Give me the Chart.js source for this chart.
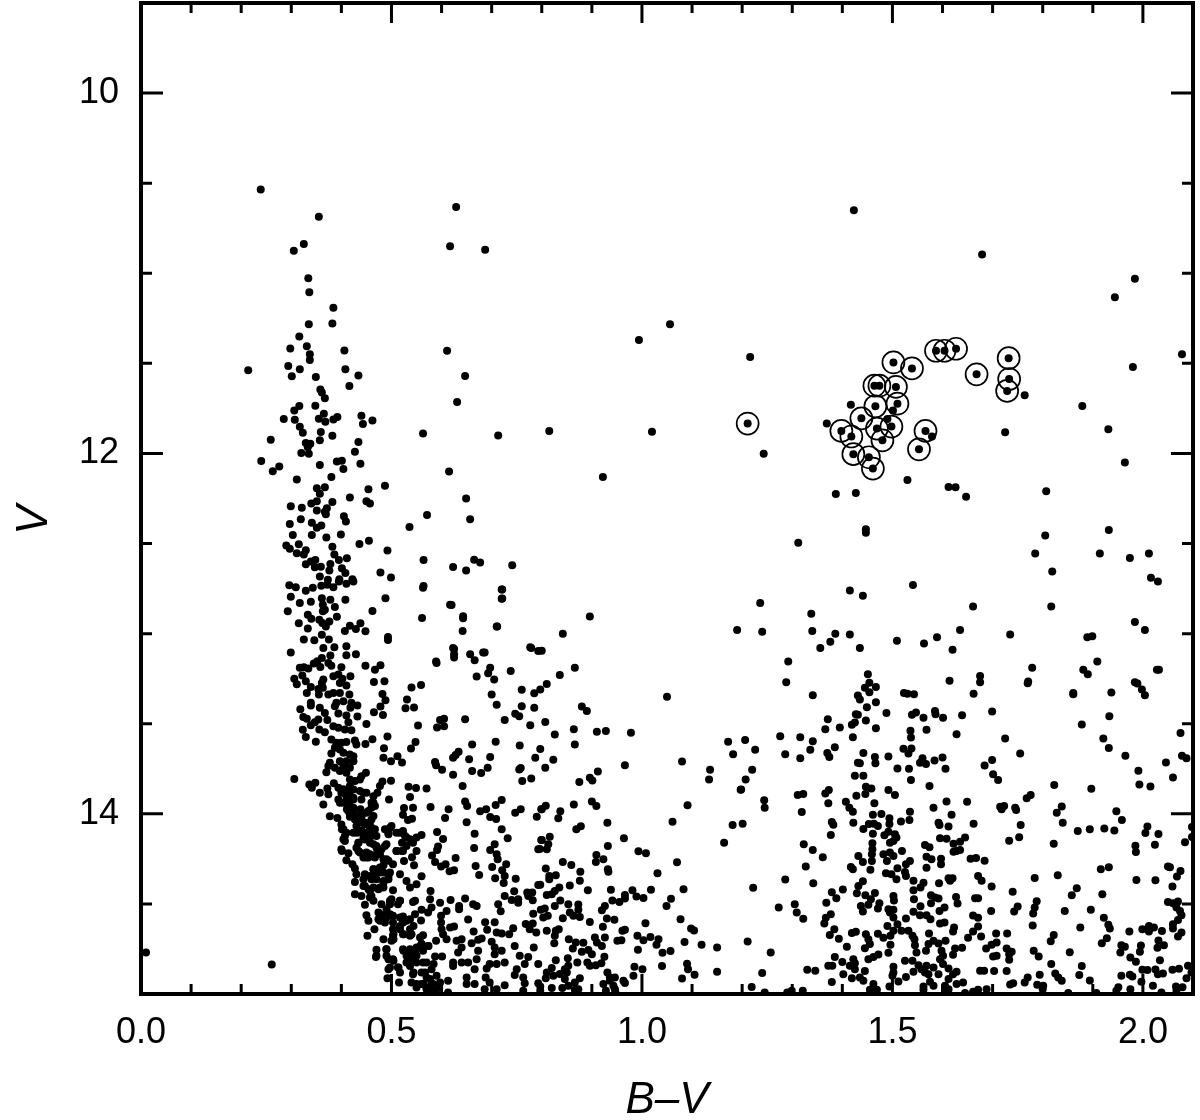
<!DOCTYPE html>
<html>
<head>
<meta charset="utf-8">
<style>
  html, body { margin: 0; padding: 0; background: #fff; }
  canvas { display: block; }
</style>
<script src="https://cdn.jsdelivr.net/npm/chart.js@4"></script>
</head>
<body>
<canvas id="cmd" width="1200" height="1120"></canvas>
<script>
// [B-V, V]
const circledStars = [[1.211,11.834],[1.398,11.875],[1.418,11.906],[1.438,11.805],[1.422,12.004],[1.453,12.021],[1.461,12.084],[1.480,11.927],[1.469,11.862],[1.498,11.851],[1.466,11.738],[1.510,11.724],[1.464,11.624],[1.474,11.624],[1.507,11.631],[1.502,11.495],[1.539,11.528],[1.587,11.430],[1.604,11.430],[1.627,11.419],[1.668,11.561],[1.732,11.471],[1.733,11.587],[1.729,11.653],[1.566,11.875],[1.553,11.977]];

const nearCircled = [[1.216,11.465],[1.243,12.001],[1.369,11.834],[1.417,11.729],[1.501,11.762],[1.490,11.809],[1.579,11.906],[1.764,11.677],[1.725,11.882],[1.530,12.148],[1.626,12.187]];

const upperBranch = [[.239,10.535],[.355,10.686],[.325,10.838],[.305,10.875],[.334,11.028],[.336,11.106],[.384,11.192],[.335,11.283],[.382,11.279],[.316,11.351],[.298,11.418],[.331,11.405],[.337,11.449],[.337,11.481],[.406,11.429],[.294,11.514],[.317,11.532],[.214,11.538],[.301,11.571],[.349,11.575],[.408,11.532],[.434,11.567],[.416,11.625],[.358,11.645],[.361,11.662],[.367,11.693],[.348,11.735],[.316,11.737],[.306,11.761],[.365,11.780],[.285,11.809],[.307,11.813],[.355,11.807],[.368,11.824],[.384,11.811],[.392,11.798],[.440,11.791],[.443,11.837],[.462,11.817],[.317,11.852],[.323,11.885],[.359,11.881],[.382,11.902],[.357,11.927],[.259,11.924],[.329,11.942],[.338,11.946],[.333,11.966],[.320,11.998],[.335,12.001],[.434,11.937],[.427,11.990],[.563,11.889],[.240,12.042],[.276,12.073],[.263,12.099],[.357,12.064],[.391,12.044],[.401,12.040],[.404,12.086],[.438,12.057],[.311,12.144],[.380,12.131],[.487,12.179],[.367,12.188],[.351,12.193],[.357,12.223],[.454,12.199],[.417,12.245],[.450,12.265],[.457,12.278],[.382,12.269],[.351,12.265],[.340,12.278],[.299,12.293],[.321,12.302],[.351,12.317],[.371,12.304],[.367,12.323],[.369,12.337],[.571,12.341],[.405,12.349],[.409,12.378],[.319,12.365],[.297,12.391],[.341,12.385],[.360,12.400],[.351,12.413],[.536,12.408],[.303,12.452],[.341,12.452],[.370,12.467],[.399,12.450],[.455,12.485],[.436,12.502],[.290,12.511],[.315,12.504],[.297,12.529],[.311,12.554],[.329,12.537],[.325,12.561],[.382,12.518],[.492,12.539],[.386,12.561],[.411,12.581],[.395,12.591],[.564,12.592],[.329,12.615],[.339,12.600],[.348,12.592],[.378,12.613],[.347,12.631],[.359,12.629],[.376,12.650],[.401,12.637],[.408,12.664],[.478,12.661],[.499,12.688],[.357,12.683],[.373,12.701],[.396,12.698],[.422,12.698]];

const turnoffStars = [[.296,12.731],[.309,12.743],[.329,12.762],[.343,12.745],[.360,12.734],[.372,12.729],[.384,12.742],[.395,12.710],[.410,12.723],[.424,12.710],[.299,12.795],[.317,12.830],[.339,12.823],[.361,12.803],[.363,12.840],[.378,12.812],[.387,12.852],[.408,12.812],[.488,12.803],[.293,12.876],[.333,12.895],[.340,12.917],[.356,12.923],[.363,12.876],[.367,12.867],[.376,12.932],[.391,12.906],[.362,12.941],[.369,12.960],[.315,12.943],[.333,12.971],[.361,13.006],[.325,13.032],[.346,13.037],[.375,13.033],[.407,12.985],[.417,12.956],[.429,12.974],[.438,12.943],[.448,12.987],[.462,12.875],[.561,12.913],[.620,12.841],[.643,12.904],[.642,12.985],[.710,12.960],[.720,12.755],[.720,12.806],[.564,12.736],[.493,13.019],[.493,13.035],[.299,13.105],[.364,13.080],[.386,13.076],[.410,13.070],[.410,13.120],[.429,13.115],[.361,13.135],[.378,13.122],[.352,13.153],[.374,13.163],[.380,13.178],[.345,13.166],[.358,13.185],[.317,13.189],[.334,13.194],[.325,13.187],[.400,13.187],[.448,13.178],[.467,13.200],[.478,13.176],[.590,13.163],[.625,13.085],[.625,13.133],[.666,13.148],[.686,13.105],[.777,13.076],[.793,13.096],[.693,13.220],[.670,13.238],[.738,13.207],[.384,13.237],[.394,13.227],[.402,13.250],[.418,13.237],[.322,13.233],[.306,13.251],[.329,13.264],[.311,13.281],[.364,13.255],[.361,13.274],[.397,13.274],[.410,13.288],[.465,13.268],[.486,13.264],[.339,13.296],[.354,13.307],[.363,13.301],[.331,13.329],[.355,13.338],[.374,13.338],[.384,13.329],[.397,13.329],[.416,13.338],[.540,13.299],[.559,13.285],[.760,13.312],[.785,13.331],[.700,13.338],[.482,13.335],[.488,13.370],[.531,13.366],[.710,13.394],[.760,13.403],[.785,13.412],[.339,13.384],[.339,13.399],[.357,13.412],[.390,13.384],[.387,13.403],[.404,13.375],[.420,13.384],[.432,13.399],[.418,13.412],[.478,13.405],[.528,13.414],[.545,13.410],[.318,13.419],[.465,13.436],[.483,13.451],[.747,13.445],[.755,13.458],[.726,13.480],[.647,13.475],[.605,13.473],[.605,13.514],[.591,13.521],[.777,13.508],[.553,13.510],[.367,13.440],[.394,13.443],[.410,13.455],[.432,13.460],[.324,13.462],[.331,13.473],[.354,13.477],[.347,13.492],[.372,13.480],[.414,13.492],[.339,13.508],[.450,13.501],[.384,13.514],[.394,13.523],[.407,13.532],[.420,13.536],[.323,13.534],[.356,13.532],[.367,13.547],[.329,13.573],[.349,13.600],[.380,13.588],[.390,13.606],[.400,13.606],[.410,13.602],[.427,13.593],[.430,13.615],[.448,13.612],[.462,13.586],[.492,13.571],[.485,13.636],[.548,13.602],[.539,13.637],[.661,13.615],[.708,13.600],[.756,13.621],[.387,13.634],[.397,13.643],[.404,13.661],[.380,13.665],[.417,13.671],[.424,13.680],[.484,13.689],[.499,13.708],[.512,13.680],[.521,13.715],[.623,13.689],[.634,13.656],[.628,13.674],[.655,13.697],[.697,13.684],[.787,13.689],[.397,13.708],[.410,13.708],[.424,13.708],[.377,13.717],[.374,13.735],[.387,13.745],[.404,13.735],[.417,13.745],[.370,13.769],[.397,13.763],[.410,13.772],[.587,13.713],[.589,13.730],[.601,13.756],[.623,13.783],[.661,13.763],[.679,13.774],[.692,13.745],[.755,13.754],[.758,13.746],[.779,13.804],[.761,13.818],[.306,13.807],[.417,13.809],[.427,13.818],[.437,13.809],[.449,13.772],[.440,13.791],[.499,13.817],[.482,13.820],[.477,13.846],[.472,13.883],[.336,13.837],[.348,13.828],[.341,13.855],[.357,13.883],[.372,13.859],[.374,13.892],[.385,13.831],[.394,13.855],[.642,13.846],[.534,13.850],[.549,13.857],[.570,13.859],[.537,13.907],[.495,13.920],[.400,13.883],[.414,13.865],[.424,13.865],[.437,13.874],[.450,13.883],[.464,13.902],[.394,13.920],[.410,13.902],[.424,13.911],[.440,13.920],[.460,13.938],[.410,13.938],[.397,13.938],[.417,13.957],[.364,13.948],[.438,13.975],[.460,13.966],[.467,13.957],[.414,13.985],[.424,13.994],[.454,13.985],[.377,14.014],[.392,14.023],[.417,14.016],[.427,14.031],[.440,14.022],[.460,14.031],[.525,13.968],[.543,13.966],[.578,13.962],[.614,13.974],[.647,13.931],[.651,13.957],[.677,13.986],[.689,13.975],[.708,13.951],[.720,13.924],[.747,13.994],[.758,13.975],[.799,13.975],[.523,14.005],[.533,14.035],[.541,14.027],[.607,14.023],[.650,14.047],[.697,14.018],[.709,14.029],[.790,14.016],[.400,14.059],[.404,14.086],[.430,14.068],[.447,14.059],[.457,14.077],[.467,14.086],[.487,14.086],[.500,14.068],[.510,14.105],[.523,14.095],[.494,14.114],[.424,14.105],[.440,14.095],[.410,14.105],[.407,14.151],[.470,14.123],[.560,14.118],[.550,14.132],[.530,14.132],[.521,14.160],[.591,14.101],[.603,14.140],[.720,14.086],[.666,14.110],[.732,14.136],[.799,14.145],[.434,14.160],[.430,14.188],[.447,14.142],[.457,14.160],[.470,14.179],[.490,14.169],[.480,14.197],[.510,14.206],[.523,14.206],[.543,14.160],[.550,14.206],[.593,14.182],[.591,14.201],[.665,14.190],[.706,14.169],[.697,14.201],[.710,14.225],[.793,14.197],[.400,14.197],[.414,14.219],[.437,14.215],[.450,14.215],[.464,14.234],[.477,14.225],[.541,14.241],[.525,14.262],[.581,14.232],[.628,14.245],[.712,14.252],[.410,14.258],[.454,14.243],[.490,14.252],[.503,14.280],[.484,14.286],[.545,14.286],[.587,14.267],[.599,14.293],[.608,14.280],[.616,14.319],[.625,14.313],[.668,14.289],[.701,14.295],[.729,14.280],[.422,14.280],[.427,14.304],[.464,14.308],[.474,14.308],[.484,14.326],[.497,14.326],[.447,14.336],[.430,14.336],[.427,14.378],[.517,14.336],[.560,14.347],[.675,14.339],[.721,14.313],[.726,14.345],[.707,14.358],[.748,14.360],[.724,14.384],[.793,14.395],[.530,14.373],[.537,14.409],[.550,14.391],[.503,14.424],[.460,14.363],[.484,14.373],[.494,14.363],[.444,14.400],[.454,14.419],[.464,14.409],[.474,14.419],[.484,14.409],[.427,14.446],[.440,14.456],[.460,14.456],[.447,14.505],[.464,14.483],[.578,14.428],[.577,14.474],[.618,14.478],[.647,14.470],[.726,14.456],[.745,14.430],[.771,14.437],[.781,14.437],[.773,14.456],[.740,14.478],[.753,14.474],[.753,14.493],[.782,14.480],[.713,14.502],[.663,14.502],[.670,14.511],[.635,14.511],[.635,14.530],[.718,14.541],[.597,14.493],[.610,14.539],[.580,14.520],[.560,14.533],[.573,14.548],[.500,14.474],[.517,14.483],[.547,14.483],[.480,14.502],[.497,14.502],[.513,14.502],[.543,14.489],[.490,14.530],[.474,14.548],[.450,14.563],[.454,14.594],[.484,14.566],[.474,14.585],[.490,14.576],[.503,14.566],[.523,14.570],[.537,14.585],[.547,14.557],[.487,14.603],[.503,14.603],[.523,14.603],[.559,14.592],[.599,14.566],[.599,14.603],[.653,14.587],[.783,14.554],[.687,14.602],[.706,14.602],[.768,14.611],[.782,14.609],[.466,14.640],[.452,14.677],[.484,14.696],[.503,14.640],[.517,14.640],[.537,14.640],[.503,14.677],[.523,14.668],[.540,14.668],[.500,14.705],[.563,14.674],[.600,14.640],[.603,14.668],[.617,14.631],[.625,14.626],[.664,14.653],[.691,14.644],[.743,14.635],[.776,14.640],[.789,14.659],[.710,14.659],[.720,14.664],[.735,14.668],[.589,14.705],[.610,14.696],[.630,14.705],[.640,14.696],[.660,14.718],[.673,14.699],[.680,14.692],[.700,14.710],[.560,14.723],[.573,14.733],[.550,14.742],[.470,14.755],[.490,14.751],[.523,14.751],[.537,14.751],[.547,14.770],[.563,14.760],[.640,14.742],[.633,14.770],[.673,14.760],[.706,14.742],[.746,14.733],[.784,14.742],[.706,14.779],[.720,14.760],[.469,14.794],[.490,14.788],[.503,14.807],[.530,14.788],[.543,14.807],[.563,14.825],[.587,14.792],[.601,14.792],[.623,14.825],[.640,14.825],[.653,14.825],[.670,14.807],[.696,14.834],[.710,14.834],[.726,14.825],[.756,14.788],[.773,14.794],[.766,14.834],[.793,14.834],[.494,14.862],[.513,14.853],[.537,14.844],[.580,14.862],[.623,14.844],[.666,14.862],[.690,14.858],[.750,14.862],[.492,14.912],[.515,14.936],[.517,14.880],[.543,14.890],[.567,14.880],[.590,14.899],[.577,14.917],[.613,14.927],[.650,14.908],[.746,14.895],[.650,14.945],[.666,14.945],[.688,14.908],[.696,14.936],[.726,14.951],[.686,14.973],[.710,14.973],[.763,14.908],[.766,14.940],[.793,14.940],[.763,14.982],[.540,14.936],[.560,14.945],[.583,14.945],[.597,14.936],[.550,14.964],[.570,14.964],[.590,14.973],[.577,14.982],[.613,14.991],[.261,14.836],[.010,14.77]];

const denseClump = [[.404,13.864],[.417,13.846],[.444,13.883],[.464,13.938],[.404,13.938],[.424,13.920],[.411,13.975],[.431,14.012],[.450,13.994],[.464,14.012],[.437,14.049],[.457,14.049],[.431,14.105],[.450,14.105],[.464,14.105],[.434,14.160],[.434,14.206],[.450,14.243],[.470,14.188],[.487,14.178],[.467,14.243],[.484,14.252],[.444,14.243],[.497,14.077],[.494,14.105],[.517,14.105],[.527,14.123],[.537,14.141],[.520,14.206],[.530,14.178],[.464,14.308],[.477,14.326],[.457,14.345],[.494,14.345],[.444,14.363],[.470,14.363],[.484,14.382],[.447,14.400],[.404,14.141],[.407,14.123],[.401,14.086],[.401,14.206],[.494,14.261],[.510,14.206],[.417,13.901],[.414,13.938],[.424,13.966],[.417,14.003],[.440,14.012],[.447,14.049],[.460,14.077],[.440,14.095],[.444,14.132],[.457,14.132],[.464,14.169],[.457,14.225],[.470,14.225],[.477,14.298],[.470,14.326],[.457,14.428],[.477,14.409],[.457,14.465],[.497,14.483],[.517,14.483],[.477,14.557],[.497,14.557],[.517,14.576],[.530,14.594],[.477,14.594],[.517,14.622],[.504,14.668],[.524,14.668],[.537,14.677],[.504,14.696],[.544,14.622],[.557,14.687],[.574,14.733],[.554,14.742],[.537,14.770],[.524,14.760],[.550,14.788],[.530,14.825],[.550,14.825],[.570,14.825],[.584,14.834],[.560,14.880],[.570,14.908],[.580,14.945],[.564,14.945],[.550,14.945],[.590,14.964],[.570,14.973],[.494,14.807],[.504,14.816],[.514,14.853],[.497,14.853],[.544,14.880],[.534,14.788],[.470,14.788],[.490,14.751],[.560,14.723]];

const middleStars = [[.875,13.824],[.901,13.815],[1.134,13.809],[1.207,13.809],[1.197,13.866],[1.244,13.925],[1.245,13.966],[1.311,13.896],[.808,13.955],[.800,13.975],[.837,13.986],[.833,14.025],[.864,13.948],[.900,13.931],[.909,13.957],[.931,14.049],[1.091,13.953],[1.061,14.044],[1.181,14.062],[1.201,14.055],[.878,14.069],[.869,14.086],[.816,14.127],[.800,14.145],[.813,14.169],[.810,14.197],[.796,14.195],[.964,14.136],[.932,14.178],[1.164,14.160],[.909,14.228],[.923,14.252],[.908,14.267],[.993,14.208],[1.008,14.219],[1.070,14.269],[.842,14.267],[.859,14.284],[.808,14.304],[.877,14.322],[.932,14.308],[.933,14.321],[1.031,14.330],[1.286,14.365],[.815,14.345],[.828,14.341],[.815,14.363],[.876,14.372],[.797,14.394],[.856,14.398],[.835,14.409],[.826,14.428],[.820,14.446],[.810,14.450],[.892,14.424],[.938,14.422],[.981,14.424],[1.018,14.422],[1.083,14.419],[1.222,14.411],[.966,14.450],[.989,14.459],[1.003,14.467],[.966,14.470],[.955,14.489],[.941,14.481],[1.058,14.472],[.837,14.481],[.853,14.502],[.873,14.503],[.826,14.511],[.926,14.511],[1.049,14.511],[1.273,14.520],[1.305,14.502],[.920,14.535],[.798,14.533],[.806,14.526],[.873,14.533],[.803,14.575],[.812,14.566],[.842,14.579],[.856,14.548],[.863,14.566],[.876,14.572],[.930,14.581],[.945,14.588],[1.309,14.548],[1.077,14.585],[.896,14.601],[1.007,14.607],[.922,14.627],[.810,14.649],[.828,14.649],[.834,14.640],[.826,14.677],[.966,14.644],[.961,14.649],[1.098,14.636],[1.104,14.648],[.991,14.677],[1.003,14.701],[1.017,14.683],[1.033,14.696],[1.029,14.727],[.906,14.686],[.926,14.686],[.854,14.696],[.868,14.714],[.883,14.716],[.910,14.714],[.920,14.733],[.825,14.718],[.862,14.747],[.951,14.705],[.959,14.701],[1.085,14.712],[1.119,14.727],[1.150,14.742],[1.211,14.708],[.992,14.755],[1.041,14.771],[1.057,14.762],[1.257,14.769],[.880,14.766],[.893,14.756],[.900,14.779],[.925,14.793],[.852,14.801],[.828,14.812],[.871,14.825],[.891,14.825],[.896,14.843],[.908,14.840],[.919,14.830],[1.040,14.845],[1.090,14.832],[.853,14.843],[.846,14.862],[.820,14.856],[.810,14.880],[.808,14.912],[.823,14.899],[.836,14.889],[.850,14.880],[.985,14.849],[1.001,14.862],[1.092,14.862],[1.105,14.893],[1.150,14.877],[1.240,14.884],[.931,14.880],[.983,14.899],[.936,14.908],[.946,14.908],[.936,14.926],[.846,14.917],[.876,14.912],[.866,14.936],[1.080,14.914],[.966,14.939],[.963,14.926],[.797,14.958],[.820,14.967],[.841,14.967],[.853,14.954],[.923,14.945],[.943,14.954],[.946,14.973],[.873,14.973],[.866,14.976],[1.219,14.961],[.797,14.982],[.928,14.982],[1.245,14.991],[1.299,14.982],[1.290,14.991],[.947,14.991]];

const redStars = [[1.341,13.342],[1.431,13.344],[1.454,13.273],[1.467,13.296],[1.454,13.325],[1.467,13.381],[1.449,13.408],[1.530,13.333],[1.543,13.336],[1.614,13.261],[1.675,13.270],[1.770,13.275],[1.662,13.333],[1.861,13.336],[1.937,13.327],[1.989,13.277],[2.004,13.342],[1.427,13.447],[1.371,13.475],[1.425,13.493],[1.447,13.482],[1.395,13.521],[1.467,13.525],[1.488,13.440],[1.547,13.438],[1.562,13.467],[1.586,13.447],[1.601,13.467],[1.639,13.453],[1.699,13.432],[1.933,13.458],[1.878,13.504],[1.536,13.539],[1.537,13.576],[1.568,13.534],[1.421,13.575],[1.341,13.597],[1.628,13.558],[1.725,13.582],[2.075,13.551],[1.921,13.582],[1.932,13.635],[1.522,13.639],[1.538,13.637],[1.532,13.665],[1.370,13.663],[1.374,13.685],[1.442,13.663],[1.465,13.685],[1.466,13.720],[1.492,13.682],[1.755,13.665],[1.965,13.678],[2.078,13.678],[2.087,13.691],[1.316,13.691],[1.431,13.717],[1.435,13.720],[1.560,13.691],[1.555,13.717],[1.567,13.724],[1.584,13.704],[1.600,13.687],[1.510,13.748],[1.533,13.750],[1.606,13.750],[1.684,13.732],[1.699,13.702],[2.046,13.715],[1.991,13.761],[1.701,13.781],[1.711,13.813],[1.425,13.789],[1.442,13.789],[1.537,13.813],[2.060,13.798],[1.993,13.837],[2.015,13.848],[1.574,13.846],[1.823,13.840],[1.897,13.861],[1.447,13.850],[1.458,13.859],[1.492,13.868],[1.505,13.896],[1.373,13.868],[1.366,13.887],[1.322,13.890],[1.428,13.900],[1.446,13.890],[1.776,13.896],[1.768,13.914],[1.608,13.931],[1.649,13.933],[1.407,13.933],[1.372,13.942],[1.464,13.942],[1.582,13.966],[1.715,13.961],[1.723,13.957],[1.718,13.975],[1.745,13.966],[1.747,13.979],[1.838,13.959],[1.828,13.994],[1.414,13.966],[1.421,13.988],[1.319,13.990],[1.535,13.988],[1.461,14.005],[1.478,14.001],[1.618,14.005],[1.947,13.986],[1.958,14.034],[1.494,14.025],[1.494,14.057],[1.517,14.042],[1.534,14.034],[1.379,14.046],[1.382,14.060],[1.422,14.049],[1.592,14.049],[1.594,14.062],[1.612,14.070],[1.662,14.055],[1.756,14.062],[1.840,14.049],[1.442,14.084],[1.453,14.057],[1.463,14.055],[1.471,14.068],[1.870,14.095],[1.894,14.086],[1.923,14.082],[1.943,14.092],[2.009,14.071],[2.005,14.106],[2.031,14.112],[1.377,14.118],[1.461,14.110],[1.484,14.119],[1.492,14.099],[1.505,14.114],[1.508,14.132],[1.595,14.136],[1.608,14.138],[1.645,14.132],[1.635,14.155],[1.622,14.166],[1.753,14.130],[1.733,14.149],[2.084,14.158],[2.098,14.129],[2.098,14.073],[1.822,14.166],[2.024,14.171],[1.985,14.177],[1.986,14.212],[1.323,14.169],[1.341,14.201],[1.460,14.164],[1.460,14.197],[1.495,14.160],[1.502,14.151],[1.565,14.173],[1.574,14.186],[1.628,14.206],[1.635,14.201],[1.622,14.210],[1.519,14.206],[1.459,14.225],[1.482,14.225],[1.495,14.215],[1.502,14.234],[1.459,14.262],[1.489,14.262],[1.361,14.241],[1.432,14.234],[1.441,14.267],[1.568,14.238],[1.578,14.252],[1.597,14.249],[1.597,14.280],[1.656,14.250],[1.667,14.245],[1.684,14.260],[1.535,14.262],[1.527,14.280],[1.510,14.302],[1.327,14.293],[1.417,14.295],[1.421,14.308],[1.456,14.310],[1.568,14.299],[2.050,14.293],[2.054,14.297],[1.916,14.308],[1.932,14.297],[2.075,14.317],[1.487,14.330],[1.498,14.336],[1.525,14.323],[1.527,14.345],[1.508,14.363],[1.671,14.345],[1.678,14.372],[1.784,14.356],[1.830,14.341],[1.987,14.367],[2.025,14.369],[2.068,14.348],[1.612,14.358],[1.620,14.358],[1.615,14.372],[1.342,14.385],[1.441,14.374],[1.432,14.400],[1.542,14.372],[1.562,14.382],[1.556,14.409],[1.593,14.385],[1.698,14.404],[2.059,14.404],[1.401,14.420],[1.379,14.435],[1.429,14.441],[1.446,14.452],[1.465,14.439],[1.542,14.424],[1.740,14.433],[1.868,14.413],[1.858,14.452],[1.919,14.446],[1.388,14.468],[1.502,14.456],[1.503,14.481],[1.543,14.474],[1.577,14.452],[1.585,14.465],[1.592,14.470],[1.577,14.496],[1.627,14.461],[1.630,14.498],[1.665,14.468],[1.671,14.468],[1.788,14.485],[1.368,14.494],[1.457,14.474],[1.452,14.504],[1.474,14.496],[1.437,14.511],[1.471,14.526],[1.441,14.542],[1.492,14.529],[1.502,14.533],[1.556,14.513],[1.604,14.520],[1.594,14.539],[1.697,14.539],[1.750,14.515],[1.743,14.542],[1.784,14.520],[1.781,14.553],[1.844,14.539],[1.896,14.533],[2.050,14.489],[2.060,14.496],[2.070,14.487],[2.067,14.520],[2.074,14.539],[1.495,14.548],[1.502,14.576],[1.542,14.544],[1.555,14.563],[1.568,14.563],[1.377,14.557],[1.367,14.577],[1.322,14.583],[1.527,14.581],[1.576,14.585],[1.661,14.565],[1.671,14.577],[1.922,14.577],[2.077,14.563],[2.070,14.589],[1.364,14.609],[1.490,14.622],[1.510,14.613],[1.595,14.609],[1.604,14.603],[1.623,14.631],[1.621,14.653],[1.671,14.625],[1.661,14.653],[1.780,14.620],[1.931,14.616],[1.934,14.637],[1.875,14.631],[2.012,14.622],[1.999,14.640],[2.012,14.653],[2.022,14.631],[2.038,14.651],[1.973,14.653],[2.060,14.613],[2.060,14.637],[2.077,14.659],[2.070,14.681],[1.384,14.640],[1.419,14.662],[1.427,14.655],[1.375,14.672],[1.447,14.668],[1.471,14.666],[1.502,14.649],[1.518,14.649],[1.532,14.649],[1.540,14.677],[1.573,14.664],[1.729,14.664],[1.707,14.664],[1.822,14.673],[1.393,14.694],[1.452,14.696],[1.482,14.688],[1.496,14.677],[1.544,14.696],[1.582,14.705],[1.606,14.705],[1.651,14.688],[1.677,14.681],[1.816,14.707],[1.928,14.690],[1.918,14.718],[2.031,14.703],[2.042,14.729],[2.029,14.744],[1.996,14.731],[1.572,14.723],[1.592,14.720],[1.455,14.723],[1.445,14.746],[1.409,14.738],[1.496,14.727],[1.545,14.729],[1.639,14.744],[1.625,14.747],[1.687,14.747],[1.698,14.727],[1.708,14.714],[1.728,14.747],[1.738,14.766],[1.782,14.760],[1.957,14.729],[1.964,14.738],[1.955,14.769],[1.994,14.766],[1.854,14.768],[1.548,14.769],[1.567,14.760],[1.492,14.771],[1.598,14.760],[1.621,14.782],[1.601,14.788],[1.472,14.781],[1.462,14.794],[1.452,14.807],[1.385,14.795],[1.400,14.823],[1.422,14.807],[1.425,14.829],[1.415,14.843],[1.701,14.792],[1.708,14.788],[1.733,14.779],[1.733,14.810],[1.792,14.792],[1.975,14.797],[1.986,14.821],[2.034,14.812],[1.525,14.816],[1.540,14.816],[1.595,14.807],[1.601,14.834],[1.612,14.858],[1.817,14.834],[1.878,14.845],[1.380,14.843],[1.372,14.843],[1.425,14.862],[1.502,14.849],[1.552,14.840],[1.568,14.843],[1.582,14.853],[1.558,14.862],[1.330,14.866],[1.346,14.871],[1.445,14.873],[1.502,14.880],[1.542,14.877],[1.565,14.880],[1.572,14.890],[1.592,14.891],[1.628,14.877],[1.621,14.890],[1.675,14.871],[1.683,14.871],[1.703,14.873],[1.728,14.873],[1.999,14.866],[2.009,14.867],[2.025,14.864],[2.030,14.890],[2.040,14.886],[2.059,14.866],[2.072,14.860],[2.090,14.843],[2.097,14.880],[2.087,14.912],[1.402,14.890],[1.419,14.912],[1.435,14.908],[1.442,14.927],[1.500,14.899],[1.527,14.906],[1.512,14.930],[1.612,14.917],[1.575,14.932],[1.794,14.893],[1.825,14.886],[1.831,14.908],[1.838,14.927],[1.873,14.895],[1.770,14.908],[1.764,14.936],[1.957,14.899],[1.974,14.893],[1.979,14.903],[1.894,14.925],[1.379,14.934],[1.582,14.954],[1.628,14.945],[1.641,14.936],[1.735,14.947],[1.741,14.941],[1.789,14.949],[1.801,14.954],[1.997,14.932],[2.020,14.954],[1.462,14.945],[1.494,14.958],[1.562,14.958],[1.605,14.954],[1.612,14.973],[1.951,14.963],[1.975,14.973],[2.066,14.958],[2.079,14.963],[1.455,14.976],[1.469,14.976],[1.321,14.982],[1.562,14.976],[1.605,14.982],[1.688,14.973],[1.671,14.976],[1.661,14.987],[1.800,14.973],[1.947,14.982],[2.067,14.982],[1.851,14.995],[1.907,14.995],[1.645,14.995],[2.037,14.991]];

const fieldStars = [[.629,10.632],[.617,10.85],[.687,10.87],[1.423,10.65],[1.679,10.896],[1.984,11.03],[1.944,11.133],[1.056,11.283],[.994,11.37],[.611,11.43],[.647,11.57],[.631,11.715],[2.078,11.45],[1.98,11.52],[.713,11.90],[.815,11.875],[1.02,11.88],[.615,12.10],[.922,12.13],[1.879,11.737],[1.931,11.865],[1.964,12.05],[1.807,12.21],[1.612,12.186],[1.647,12.24],[1.387,12.225],[1.427,12.22],[1.447,12.42],[1.447,12.44],[1.932,12.425],[1.914,12.555],[1.974,12.58],[2.012,12.555],[2.016,12.69],[2.03,12.71],[1.805,12.455],[1.785,12.555],[1.819,12.655],[1.817,12.85],[1.312,12.495],[1.541,12.73],[.649,12.25],[.657,12.365],[.563,12.745],[.623,12.63],[.649,12.65],[.665,12.59],[.677,12.605],[.741,12.62],[.721,12.755],[.721,12.805],[.617,12.84],[.643,12.915],[.711,12.96],[.896,12.905],[.842,13.0],[.779,13.08],[.80,13.095],[1.19,12.98],[1.236,12.83],[1.24,12.99],[1.338,12.89],[1.415,12.76],[1.441,12.79],[1.34,12.985],[1.386,13.0],[1.415,13.005],[1.435,13.08],[1.376,13.045],[1.356,13.08],[1.509,13.04],[1.589,13.02],[1.635,12.98],[1.563,13.055],[1.661,12.85],[1.735,13.005],[1.62,13.09],[1.779,13.19],[1.771,13.265],[1.675,13.235],[1.292,13.155],[1.288,13.27],[1.889,13.02],[1.899,13.015],[1.984,12.935],[2.004,12.98],[1.909,13.155],[1.881,13.2],[1.89,13.225],[1.861,13.33],[1.998,13.31],[1.984,13.27],[2.028,13.2],[2.032,13.2],[1.05,13.35],[.978,13.55],[.928,13.54],[.91,13.545],[.966,13.73],[.89,13.43],[.88,13.405],[.864,13.53],[.826,13.56],[.797,13.31],[.81,13.28],[.836,13.23],[.866,13.19],[.807,13.49],[.683,13.105],[.697,13.19],[.705,13.255],[.657,13.115],[.623,13.08],[.625,13.115],[.589,13.155],[.597,13.48],[.912,13.765],[.866,13.615],[.896,13.80],[.797,13.64],[.823,13.70],[.807,13.745],[1.08,13.71],[1.136,13.755],[1.172,13.6],[1.182,13.67],[1.206,13.59],[1.22,13.755],[1.226,13.645],[1.198,13.865],[1.276,13.57],[1.286,13.67],[1.316,13.575],[1.336,13.645],[1.366,13.53],[1.385,13.63],[1.419,13.505],[1.435,13.365],[1.445,13.3],[1.451,13.225],[1.431,13.45],[1.523,13.33],[1.539,13.45],[1.585,13.43]];

const allStars = [...circledStars, ...nearCircled, ...upperBranch, ...turnoffStars, ...denseClump, ...middleStars, ...redStars, ...fieldStars];

const toPoints = (pairs) => pairs.map(([x, y]) => ({ x, y }));

// inward ticks and the full frame
const frame = {
  id: "frame",
  afterDraw(chart) {
    const { ctx, chartArea: a, scales } = chart;
    ctx.save();
    ctx.strokeStyle = "#000";
    ctx.lineWidth = 3;
    scales.x.ticks.forEach((t) => {
      const px = scales.x.getPixelForValue(t.value);
      const len = Math.round(t.value * 10) % 5 === 0 ? 20 : 10;
      ctx.beginPath();
      ctx.moveTo(px, a.bottom);
      ctx.lineTo(px, a.bottom - len);
      ctx.moveTo(px, a.top);
      ctx.lineTo(px, a.top + len);
      ctx.stroke();
    });
    scales.y.ticks.forEach((t) => {
      const py = scales.y.getPixelForValue(t.value);
      const len = Math.round(t.value * 2) % 4 === 0 ? 22 : 11;
      ctx.beginPath();
      ctx.moveTo(a.left, py);
      ctx.lineTo(a.left + len, py);
      ctx.moveTo(a.right, py);
      ctx.lineTo(a.right - len, py);
      ctx.stroke();
    });
    ctx.lineWidth = 4;
    ctx.strokeRect(a.left, a.top, a.right - a.left, a.bottom - a.top);

    ctx.fillStyle = "#000";
    ctx.font = "italic 44px 'Liberation Sans'";
    ctx.textAlign = "center";
    ctx.textBaseline = "middle";
    ctx.translate(35, 520);
    ctx.rotate(-Math.PI / 2);
    ctx.fillText("V", 0, 0);
    ctx.restore();
  },
};

new Chart(document.getElementById("cmd"), {
  type: "scatter",
  data: {
    datasets: [
      {
        data: toPoints(allStars),
        pointRadius: 4,
        pointBackgroundColor: "#000",
        pointBorderWidth: 0,
      },
      {
        data: toPoints(circledStars),
        pointRadius: 11,
        pointBackgroundColor: "transparent",
        pointBorderColor: "#000",
        pointBorderWidth: 1.7,
      },
    ],
  },
  options: {
    responsive: false,
    animation: false,
    layout: {
      autoPadding: false,
      padding: { top: 3, right: 7, left: 0, bottom: 0 },
    },
    scales: {
      x: {
        type: "linear",
        min: 0,
        max: 2.1,
        afterFit: (scale) => {
          scale.height = 126;
          scale.paddingLeft = 0;
          scale.paddingRight = 0;
        },
        afterBuildTicks: (scale) => {
          scale.ticks = Array.from({ length: 22 }, (_, i) => ({ value: i / 10 }));
        },
        grid: { display: false },
        border: { display: false },
        ticks: {
          autoSkip: false,
          maxRotation: 0,
          padding: 9,
          color: "#000",
          font: { family: "'Liberation Sans'", size: 36 },
          callback: (v) => (Math.round(v * 10) % 5 === 0 ? v.toFixed(1) : ""),
        },
        title: {
          display: true,
          text: "B–V",
          color: "#000",
          font: { family: "'Liberation Sans'", size: 44, style: "italic" },
          padding: { top: 0, bottom: -7 },
        },
      },
      y: {
        type: "linear",
        reverse: true,
        min: 9.5,
        max: 15,
        afterFit: (scale) => {
          scale.width = 141;
          scale.paddingTop = 0;
          scale.paddingBottom = 0;
        },
        afterBuildTicks: (scale) => {
          scale.ticks = Array.from({ length: 12 }, (_, i) => ({ value: 9.5 + i / 2 }));
        },
        grid: { display: false },
        border: { display: false },
        ticks: {
          autoSkip: false,
          padding: 14,
          color: "#000",
          font: { family: "'Liberation Sans'", size: 36 },
          callback: (v) => ([10, 12, 14].includes(v) ? String(v) : ""),
        },
      },
    },
    plugins: {
      legend: { display: false },
      tooltip: { enabled: false },
    },
  },
  plugins: [frame],
});
</script>
</body>
</html>
